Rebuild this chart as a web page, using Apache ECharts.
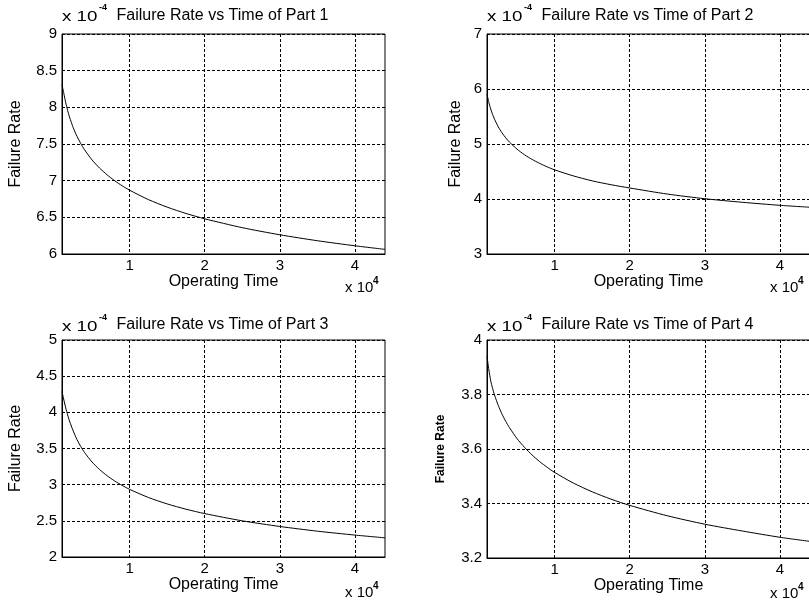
<!DOCTYPE html>
<html><head><meta charset="utf-8">
<script src="https://cdn.jsdelivr.net/npm/echarts@6/dist/echarts.min.js"></script>
<style>html,body{margin:0;padding:0;background:#fff}#c{width:809px;height:606px}</style>
</head><body><div id="c"></div>
<script>
// Operating time (hours) at which the curves were read
const operatingTime = [1000,1250,1500,1750,2000,2500,3000,3500,4000,5000,6000,7000,8000,9000,10000,12500,15000,17500,20000,25000,30000,35000,40000,44000];
// Failure rates (x 10^-4)
const part1Rate = [8.31,8.186,8.061,7.957,7.868,7.722,7.604,7.506,7.422,7.283,7.172,7.080,7.000,6.931,6.870,6.742,6.639,6.553,6.480,6.359,6.262,6.181,6.112,6.063];
const part2Rate = [5.903,5.754,5.635,5.535,5.451,5.313,5.203,5.111,5.033,4.906,4.804,4.720,4.648,4.585,4.530,4.420,4.330,4.260,4.200,4.090,4.005,3.940,3.885,3.850];
const part3Rate = [4.29,4.17,4.06,3.965,3.88,3.741,3.623,3.527,3.445,3.313,3.209,3.124,3.052,2.990,2.935,2.823,2.734,2.661,2.600,2.500,2.422,2.357,2.303,2.265];
const part4Rate = [3.940,3.890,3.850,3.822,3.798,3.760,3.728,3.701,3.678,3.638,3.606,3.578,3.554,3.533,3.514,3.475,3.443,3.416,3.393,3.355,3.324,3.299,3.276,3.261];
const xTickValues = [10000,20000,30000,40000];
const plotTitles = ['Failure Rate vs Time of Part 1','Failure Rate vs Time of Part 2','Failure Rate vs Time of Part 3','Failure Rate vs Time of Part 4'];
const yMin = [6,3,2,3.2];
const yMax = [9,7,5,4];
const yStep = [0.5,1,0.5,0.2];
const xMin = 1000, xMax = 44000;
const yName = 'Failure Rate';
const xName = 'Operating Time';

const rates = [part1Rate, part2Rate, part3Rate, part4Rate];
const FONT = '"Liberation Sans", Arial, Helvetica, sans-serif';
const boxes = [
  {left:62, top:34, width:323, height:220},
  {left:487, top:34, width:323, height:220},
  {left:62, top:340, width:323, height:217},
  {left:487, top:340, width:323, height:218}
];
const yNameGap = [38,23,38,40];
const titleDy = [-26,-26,-23,-23];
const multCy = [-17,-17,-13,-13];
const gridStyle = {color:'#000', type:[3,2], width:1};

const grid = [], xAxis = [], yAxis = [], series = [], title = [], graphic = [];
boxes.forEach((b, i) => {
  grid.push(Object.assign({show:true, borderColor:'#000', borderWidth:1, backgroundColor:'#fff', containLabel:false, outerBoundsMode:'none'}, b));
  xAxis.push({
    type:'value', gridIndex:i, min:xMin, max:xMax,
    axisLine:{show:true, onZero:false, lineStyle:{color:'#000', width:1}},
    axisTick:{show:false, customValues:xTickValues},
    axisLabel:{customValues:xTickValues, formatter:v => String(v/10000), color:'#000', fontSize:15, fontFamily:FONT, margin:4},
    splitLine:{show:true, lineStyle:gridStyle},
    name:xName, nameLocation:'middle', nameGap:20, nameMoveOverlap:false,
    nameTextStyle:{color:'#000', fontSize:16, fontFamily:FONT}
  });
  yAxis.push({
    type:'value', gridIndex:i, min:yMin[i], max:yMax[i], interval:yStep[i],
    axisLine:{show:true, onZero:false, lineStyle:{color:'#000', width:1}},
    axisTick:{show:false},
    axisLabel:{color:'#000', fontSize:15, fontFamily:FONT, margin:5, showMinLabel:true, showMaxLabel:true},
    splitLine:{show:true, lineStyle:gridStyle},
    name:yName, nameLocation:'middle', nameGap:yNameGap[i], nameMoveOverlap:false,
    nameTextStyle: i === 3 ? {color:'#000', fontSize:12, fontWeight:'bold', fontFamily:FONT}
                           : {color:'#000', fontSize:16, fontFamily:FONT}
  });
  series.push({
    type:'line', xAxisIndex:i, yAxisIndex:i, showSymbol:false, smooth:0.25,
    lineStyle:{color:'#000', width:1}, itemStyle:{color:'#000'}, silent:true, animation:false,
    data: operatingTime.map((t, j) => [t, rates[i][j]])
  });
  title.push({
    text: plotTitles[i], left: b.left + b.width/2 - 1, top: b.top + titleDy[i], textAlign:'center', padding:0,
    textStyle:{color:'#000', fontSize:16, fontWeight:'normal', fontFamily:FONT}
  });
  // y multiplier: x 10^-4
  const cy = b.top + multCy[i];
  graphic.push({type:'text', x:b.left, y:cy, scaleX:1.25, style:{text:'x 10', fill:'#000', font:'15px ' + FONT, align:'left', verticalAlign:'middle', textAlign:'left', textVerticalAlign:'middle'}});
  graphic.push({type:'text', x:b.left + 37, y:cy - 9, style:{text:'-4', fill:'#000', font:'bold 9px ' + FONT, align:'left', verticalAlign:'middle', textAlign:'left', textVerticalAlign:'middle'}});
  // x multiplier: x 10^4
  const bottom = b.top + b.height;
  const by = bottom + (i < 2 ? 34 : 36);
  graphic.push({type:'text', x:b.left + 283, y:by, style:{text:'x 10', fill:'#000', font:'15px ' + FONT, align:'left', verticalAlign:'middle', textAlign:'left', textVerticalAlign:'middle'}});
  graphic.push({type:'text', x:b.left + 311, y:by - 7, style:{text:'4', fill:'#000', font:'bold 10px ' + FONT, align:'left', verticalAlign:'middle', textAlign:'left', textVerticalAlign:'middle'}});
});

const chart = echarts.init(document.getElementById('c'), null, {renderer:'canvas'});
chart.setOption({backgroundColor:'#fff', animation:false, title, grid, xAxis, yAxis, series, graphic});
</script></body></html>
